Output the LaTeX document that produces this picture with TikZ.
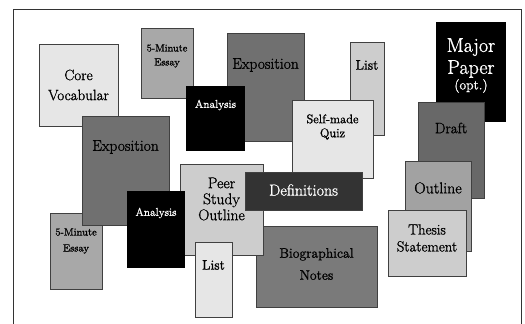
\documentclass[tikz,border=0pt]{standalone}
\usepackage{fontspec}
\setmainfont{Latin Modern Roman}[FakeBold=1.2]
\usepackage{xcolor}
\usepackage{tikz}
\usetikzlibrary{positioning}
\definecolor{paleg}{HTML}{E6E6E6}
\definecolor{lightg}{HTML}{CDCDCD}
\definecolor{midg}{HTML}{A8A8A8}
\definecolor{outlg}{HTML}{A2A2A2}
\definecolor{darkg}{HTML}{707070}
\definecolor{biog}{HTML}{7A7A7A}
\definecolor{draftg}{HTML}{686868}
\definecolor{deepg}{HTML}{333333}
\tikzset{
  card/.style={rectangle, draw=black!75, line width=0.8pt, anchor=north west,
    inner sep=0pt},
  blackcard/.style={rectangle, draw=none, fill=black, anchor=north west,
    inner sep=0pt},
  txt/.style={align=center, inner sep=0pt, text=black},
  wtxt/.style={align=center, inner sep=0pt, text=white},
}

\begin{document}
\begin{tikzpicture}[x=1pt, y=-1pt]
  \useasboundingbox (0,0) rectangle (525,324);
  \clip (0,0) rectangle (525,324);
  \draw[draw=black!80, line width=0.9pt] (13,9) rectangle (521,340);
  % back layer
  \node[card, fill=paleg, minimum width=79pt, minimum height=82pt] (core) at (39,44) {};
  \node[card, fill=midg, minimum width=52pt, minimum height=70pt] (essayA) at (141,28) {};
  \node[card, fill=darkg, minimum width=77pt, minimum height=108pt] (expoA) at (227,33) {};
  \node[card, fill=lightg, minimum width=34pt, minimum height=93pt] (listA) at (350,42) {};
  \node[card, fill=paleg, minimum width=81pt, minimum height=78pt] (quiz) at (292,100) {};
  \node[blackcard, minimum width=59pt, minimum height=65pt] (anaA) at (186,86) {};
  \node[card, fill=midg, minimum width=52pt, minimum height=76pt] (essayB) at (50,213) {};
  \node[card, fill=darkg, minimum width=87pt, minimum height=109pt] (expoB) at (82,116) {};
  \node[card, fill=biog, minimum width=121pt, minimum height=81pt] (bio) at (256,226) {};
  \node[card, fill=lightg, minimum width=83pt, minimum height=91pt] (peer) at (180,164) {};
  \node[blackcard, minimum width=58pt, minimum height=77pt] (anaB) at (127,191) {};
  \node[card, fill=paleg, minimum width=37pt, minimum height=75pt] (listB) at (195,242) {};
  \node[card, fill=deepg, minimum width=117pt, minimum height=38pt] (defs) at (245,172) {};
  % right stack
  \node[blackcard, minimum width=70pt, minimum height=100pt] (major) at (436,22) {};
  \node[card, fill=draftg, minimum width=66pt, minimum height=96pt] (draft) at (418,102) {};
  \node[card, fill=outlg, minimum width=66pt, minimum height=90pt] (outl) at (405,161) {};
  \node[card, fill=lightg, minimum width=78pt, minimum height=66pt] (thesis) at (388,210) {};
  % labels
  \node[txt, font=\fontsize{15}{20}\selectfont] (coreT) at (78.5,85) {Core\\Vocabular};
  \node[txt, font=\fontsize{10.3}{14}\selectfont] (essayAT) at (167,56) {5-Minute\\Essay};
  \node[txt, font=\fontsize{15.5}{18}\selectfont] (expoAT) at (265.5,65) {Exposition};
  \node[txt, font=\fontsize{13.8}{16}\selectfont] (listAT) at (367,65) {List};
  \node[txt, font=\fontsize{12.5}{14}\selectfont] (quizT) at (332.5,127) {Self-made\\Quiz};
  \node[wtxt, font=\fontsize{11.4}{14}\selectfont] (anaAT) at (215.5,105) {Analysis};
  \node[txt, font=\fontsize{10.5}{16}\selectfont] (essayBT) at (76,241) {5-Minute\\Essay};
  \node[txt, font=\fontsize{15.5}{18}\selectfont] (expoBT) at (125.5,147) {Exposition};
  \node[txt, font=\fontsize{13.8}{22}\selectfont] (bioT) at (316.5,264) {Biographical\\Notes};
  \node[txt, font=\fontsize{15.5}{16}\selectfont] (peerT) at (221.5,199) {Peer\\Study\\Outline};
  \node[wtxt, font=\fontsize{11.4}{14}\selectfont] (anaBT) at (156,213) {Analysis};
  \node[txt, font=\fontsize{13.8}{16}\selectfont] (listBT) at (213.5,265) {List};
  \node[wtxt, font=\fontsize{16}{18}\selectfont] (defsT) at (303.5,190) {Definitions};
  \node[wtxt, font=\fontsize{20}{22}\selectfont] (majorT) at (471,58) {Major\\Paper};
  \node[wtxt, font=\fontsize{13.6}{15}\selectfont, below=1pt of majorT] (optT) {(opt.)};
  \node[txt, font=\fontsize{15}{18}\selectfont] (draftT) at (451,128) {Draft};
  \node[txt, font=\fontsize{15.8}{18}\selectfont] (outlT) at (438,188) {Outline};
  \node[txt, font=\fontsize{14.7}{17}\selectfont] (thesisT) at (427,238) {Thesis\\Statement};
\end{tikzpicture}
\end{document}
